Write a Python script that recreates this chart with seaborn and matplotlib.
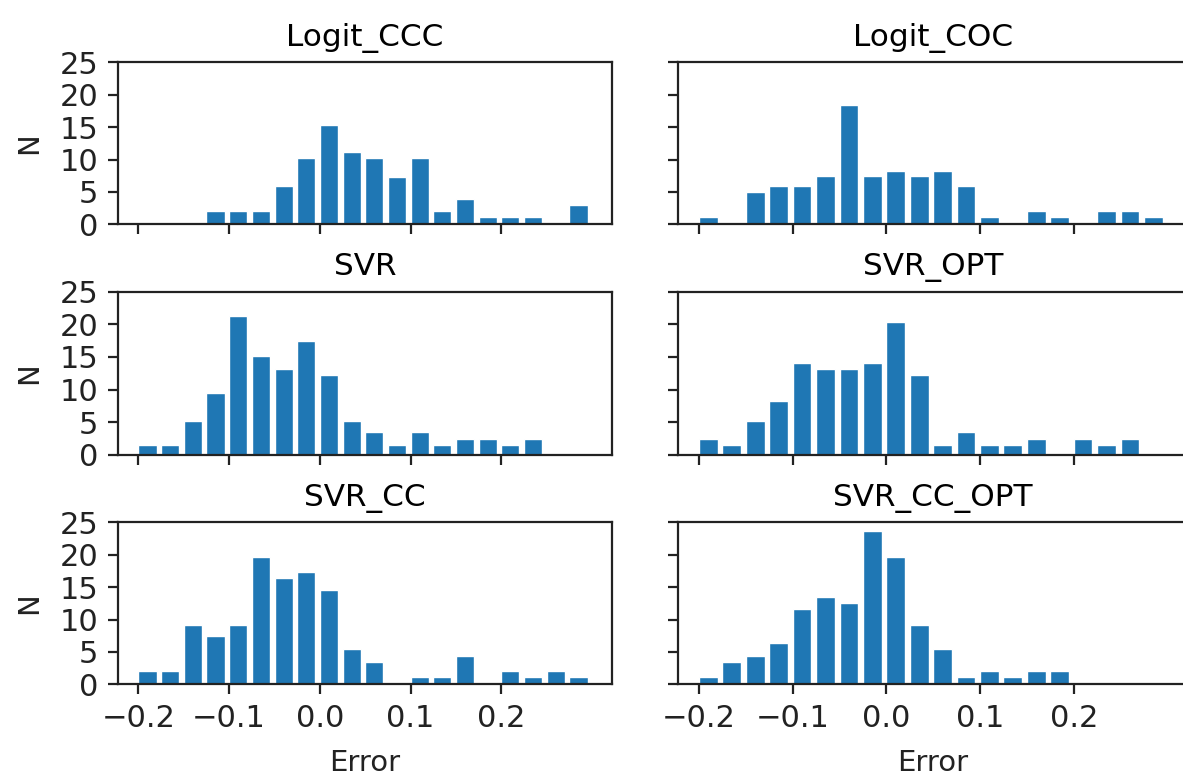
import numpy as np
import pandas as pd
import matplotlib
matplotlib.use("Agg")
import matplotlib.pyplot as plt
import seaborn as sns

# ---- data ----
titles = ["Logit_CCC", "Logit_COC", "SVR", "SVR_OPT", "SVR_CC", "SVR_CC_OPT"]
bin_start = -0.2025
bin_width = 0.025
n_bins = 20

logit_ccc = [0, 0, 0, 2, 2, 2, 5.9, 10.2, 15.4, 11.1, 10.2, 7.3, 10.2, 2, 3.9, 1.1, 1.1, 1.1, 0, 3.0]
logit_coc = [1.15, 0, 5.0, 5.9, 5.9, 7.4, 18.4, 7.4, 8.3, 7.4, 8.3, 5.9, 1.15, 0, 2.05, 1.15, 0, 2.05, 2.05, 1.15]
svr = [1.5, 1.5, 5.2, 9.4, 21.3, 15.1, 13.2, 17.5, 12.2, 5.2, 3.4, 1.5, 3.4, 1.5, 2.4, 2.4, 1.5, 2.4, 0, 0]
svr_opt = [2.4, 1.5, 5.2, 8.2, 14.1, 13.2, 13.2, 14.1, 20.4, 12.2, 1.5, 3.4, 1.5, 1.5, 2.4, 0, 2.4, 1.5, 2.4, 0]
svr_cc = [2.0, 2.0, 9.2, 7.4, 9.2, 19.7, 16.4, 17.4, 14.5, 5.4, 3.4, 0, 1.1, 1.1, 4.4, 0, 2.0, 1.1, 2.0, 1.1]
svr_cc_opt = [1.1, 3.4, 4.4, 6.3, 11.6, 13.5, 12.6, 23.6, 19.7, 9.2, 5.4, 1.1, 2.0, 1.1, 2.0, 2.0, 0, 0, 0, 0]
series = [logit_ccc, logit_coc, svr, svr_opt, svr_cc, svr_cc_opt]

x_ticks = [-0.2, -0.1, 0.0, 0.1, 0.2]
y_ticks = [0, 5, 10, 15, 20, 25]

edges = [bin_start + bin_width * k for k in range(n_bins + 1)]
centers = [(edges[k] + edges[k + 1]) / 2 for k in range(n_bins)]

# ---- figure ----
W, H = 1183, 778
fig = plt.figure(figsize=(W / 200, H / 200), dpi=200)

col_x = [(118, 494), (678, 510)]
row_y = [(62.3, 224.3), (292.0, 454.5), (522.3, 684.3)]

axes = []
for i, (title, vals) in enumerate(zip(titles, series)):
    r, c = divmod(i, 2)
    x0, w = col_x[c]
    top, bot = row_y[r]
    ax = fig.add_axes([x0 / W, 1 - bot / H, w / W, (bot - top) / H])
    axes.append(ax)
    df = pd.DataFrame({"Error": centers, "N": vals})
    sns.histplot(data=df, x="Error", weights="N", bins=edges, shrink=0.8, color="#1f77b4",
                 alpha=1, edgecolor="white", linewidth=0.5, ax=ax)
    ax.set_xlim(-0.2225, 0.322)
    ax.set_ylim(0, 25)
    ax.set_xticks(x_ticks)
    ax.set_yticks(y_ticks)
    ax.set_title(title, fontsize=11.2)
    ax.tick_params(labelsize=11, colors="#222222", labelcolor="#222222")
    for sp in ax.spines.values():
        sp.set_color("#222222")
    if c == 0:
        ax.set_ylabel("N", fontsize=10.5, color="#222222", labelpad=6)
    else:
        ax.set_ylabel("")
        ax.tick_params(labelleft=False)
    if r == 2:
        ax.set_xlabel("Error", fontsize=10.5, color="#222222", labelpad=6)
        ax.set_xticklabels([f"{t:.1f}".replace("-", "\u2212") for t in x_ticks])
    else:
        ax.set_xlabel("")
        ax.tick_params(labelbottom=False)

fig.savefig("out.png", dpi=200)
